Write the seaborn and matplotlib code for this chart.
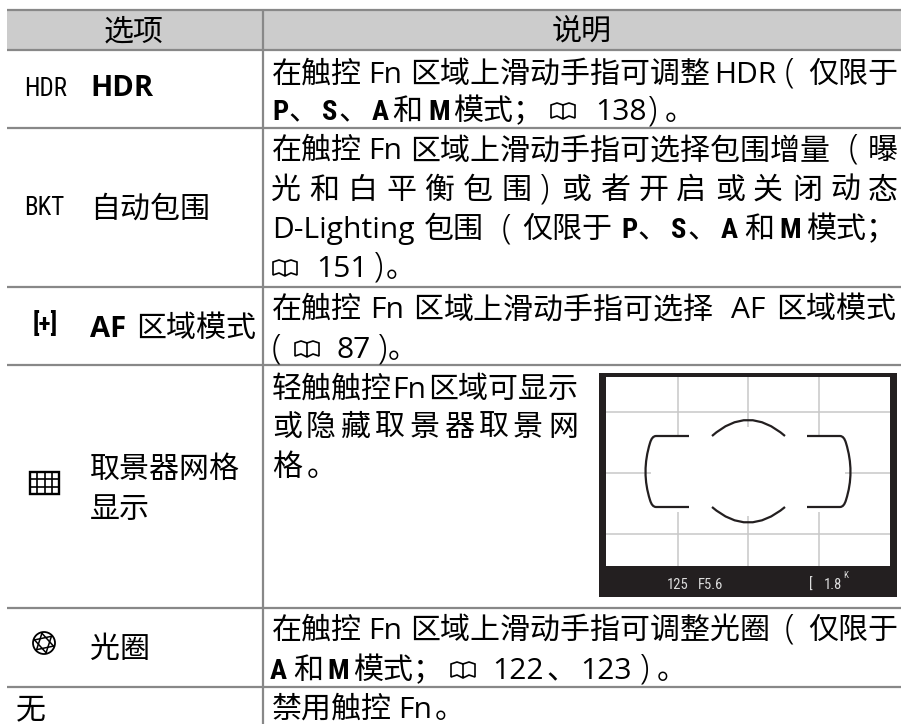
import numpy as np
import pandas as pd
import matplotlib
matplotlib.use('Agg')
import matplotlib.pyplot as plt
from matplotlib import font_manager
from matplotlib.patches import Rectangle, Circle, PathPatch
from matplotlib.path import Path
import seaborn as sns

W, H = 901, 724
RULE = '#888888'
HEAD = '#cccccc'
INK = '#000000'

# --- table structure ---
headers = ['选项', '说明']
row_edges = [10, 50, 128, 287, 365, 608, 687]
column_edge = 263

# --- left column: (baseline, kind, x, text) ---
options = [
    (96, 'icon', 24, 'HDR'),
    (96, 'bold', 90, 'HDR'),
    (215, 'icon', 24, 'BKT'),
    (218, 'cjk', 90, '自动包围'),
    (332, 'brace', 33, '[+]'),
    (337, 'bold', 90, 'AF'),
    (337, 'cjk', 136, '区域模式'),
    (478, 'cjk', 90, '取景器网格'),
    (518, 'cjk', 90, '显示'),
    (658, 'cjk', 90, '光圈'),
    (718, 'cjk', 16, '无'),
]

# --- right column: baseline, then (kind, x, text), book marks are kind 'book' ---
row_hdr_1 = (83, [('cjk', 272, '在触控'), ('lat', 368, 'Fn'), ('cjk', 410, '区域上滑动手指可调整'),
                  ('lat', 714, 'HDR'), ('paren', 785, '('), ('cjk', 808, '仅限于')])
row_hdr_2 = (120, [('narrow', 272, 'P'), ('cjk', 288, '、'), ('narrow', 322, 'S'), ('cjk', 338, '、'),
                   ('narrow', 372, 'A'), ('cjk', 392, '和'), ('narrow', 428, 'M'), ('cjk', 453, '模式；'),
                   ('book', 550, ''), ('num', 595, '138'), ('paren', 648, ')'), ('cjk', 665, '。')])
row_bkt_1 = (159, [('cjk', 272, '在触控'), ('lat', 368, 'Fn'), ('cjk', 410, '区域上滑动手指可选择包围增量'),
                   ('paren', 849, '('), ('cjk', 868, '曝')])
row_bkt_2 = (199, [('cjk', 271, '光'), ('cjk', 309, '和'), ('cjk', 348, '白'), ('cjk', 386, '平'),
                   ('cjk', 424, '衡'), ('cjk', 463, '包'), ('cjk', 501, '围'), ('paren', 540, ')'),
                   ('cjk', 561, '或'), ('cjk', 600, '者'), ('cjk', 638, '开'), ('cjk', 676, '启'),
                   ('cjk', 715, '或'), ('cjk', 753, '关'), ('cjk', 792, '闭'), ('cjk', 830, '动'),
                   ('cjk', 868, '态')])
row_bkt_3 = (238, [('lat', 272, 'D-Lighting'), ('cjk', 424, '包围'), ('paren', 502, '('), ('cjk', 522, '仅限于'),
                   ('narrow', 621, 'P'), ('cjk', 637, '、'), ('narrow', 671, 'S'), ('cjk', 687, '、'),
                   ('narrow', 721, 'A'), ('cjk', 744, '和'), ('narrow', 779, 'M'), ('cjk', 806, '模式；')])
row_bkt_4 = (277, [('book', 272, ''), ('num', 316, '151'), ('paren', 374, ')'), ('cjk', 386, '。')])
row_af_1 = (318, [('cjk', 272, '在触控'), ('lat', 370, 'Fn'), ('cjk', 413, '区'), ('cjk', 444, '域上滑动手指可选择'),
                  ('lat', 731, 'AF'), ('cjk', 776, '区域模式')])
row_af_2 = (358, [('paren', 272, '('), ('book', 294, ''), ('num', 337, '87'), ('paren', 378, ')'), ('cjk', 388, '。')])
row_grid_1 = (398, [('cjk', 272, '轻触触控'), ('lat', 392, 'Fn'), ('cjk', 428, '区域可显示')])
row_grid_2 = (436, [('cjk', 272, '或'), ('cjk', 306, '隐'), ('cjk', 341, '藏'), ('cjk', 375, '取'), ('cjk', 410, '景'),
                    ('cjk', 444, '器'), ('cjk', 479, '取'), ('cjk', 513, '景'), ('cjk', 548, '网')])
row_grid_3 = (476, [('cjk', 272, '格'), ('cjk', 307, '。')])
row_ap_1 = (639, [('cjk', 272, '在触控'), ('lat', 368, 'Fn'), ('cjk', 410, '区域上滑动手指可调整光圈'),
                  ('paren', 785, '('), ('cjk', 808, '仅限于')])
row_ap_2 = (679, [('narrow', 270, 'A'), ('cjk', 293, '和'), ('narrow', 327, 'M'), ('cjk', 353, '模式；'),
                  ('book', 450, ''), ('num', 492, '122'), ('cjk', 546, '、'), ('num', 580, '123'),
                  ('paren', 640, ')'), ('cjk', 657, '。')])
row_none = (718, [('cjk', 272, '禁用触控'), ('lat', 398, 'Fn'), ('cjk', 435, '。')])

description_lines = [row_hdr_1, row_hdr_2, row_bkt_1, row_bkt_2, row_bkt_3, row_bkt_4, row_af_1, row_af_2,
                     row_grid_1, row_grid_2, row_grid_3, row_ap_1, row_ap_2, row_none]

# --- viewfinder picture ---
finder_columns = [678, 748, 819]
finder_rows = [412, 473, 534]
finder_readout = [(667, '125', 589), (698, 'F5.6', 589), (809, '[', 589), (824, '1.8', 589), (843, 'K', 578)]

sns.set_theme(style='white')
plt.rcParams['font.family'] = ['Noto Sans CJK SC', 'DejaVu Sans']

installed = {f.name for f in font_manager.fontManager.ttflist}
NARROW = next(n for n in ['Liberation Sans Narrow', 'Roboto Condensed', 'Open Sans Condensed', 'Roboto', 'DejaVu Sans']
              if n in installed)

STYLES = {
    'cjk': dict(family=['Noto Sans CJK SC', 'DejaVu Sans'], size=21.6),
    'lat': dict(family=['Open Sans', 'DejaVu Sans'], size=21.6),
    'num': dict(family=['Open Sans', 'DejaVu Sans'], size=21.6),
    'paren': dict(family=['Open Sans', 'DejaVu Sans'], size=25, weight='light'),
    'bold': dict(family=['Open Sans', 'DejaVu Sans'], size=21, weight='bold'),
    'narrow': dict(family=[NARROW, 'DejaVu Sans'], size=20.5, weight='bold'),
    'brace': dict(family=[NARROW, 'DejaVu Sans'], size=18, weight='bold'),
    'icon': dict(family=[NARROW, 'DejaVu Sans'], size=18),
}

fig = plt.figure(figsize=(W / 100, H / 100), dpi=100, facecolor='white')

# header band as a one cell heatmap
head_ax = fig.add_axes([7 / W, 1 - 50 / H, (W - 7) / W, 40 / H])
sns.heatmap(np.zeros((1, 1)), cmap=[HEAD], cbar=False, ax=head_ax,
            xticklabels=False, yticklabels=False)

ax = fig.add_axes([0, 0, 1, 1], facecolor='none')


def draw_rules(segments, color, lw, zorder):
    """segments: list of (x0, y0, x1, y1), drawn by one lineplot call"""
    rows = []
    for i, (x0, y0, x1, y1) in enumerate(segments):
        rows.append({'x': x0, 'y': y0, 'rule': i})
        rows.append({'x': x1, 'y': y1, 'rule': i})
    df = pd.DataFrame(rows)
    sns.lineplot(data=df, x='x', y='y', units='rule', estimator=None, sort=False,
                 color=color, linewidth=lw, legend=False, ax=ax, zorder=zorder,
                 solid_capstyle='butt')


def draw_book(x, base):
    top, bot = base - 16, base - 1
    mid = x + 13
    path = Path([(mid, top + 1), (x + 7, top - 1), (x + 1, top + 1), (x + 1, bot - 1), (x + 7, bot - 3), (mid, bot),
                 (x + 19, bot - 3), (x + 25, bot - 1), (x + 25, top + 1), (x + 19, top - 1), (mid, top + 1), (mid, bot)])
    ax.add_patch(PathPatch(path, fill=False, ec=INK, lw=1.2, zorder=5))


def draw_segments(base, segments):
    for kind, x, txt in segments:
        if kind == 'book':
            draw_book(x, base)
        else:
            ax.text(x, base, txt, color=INK, va='baseline', ha='left', **STYLES[kind])


# table rules
table_rules = [(7, y, W, y) for y in row_edges] + [(column_edge, 10, column_edge, H)]
draw_rules(table_rules, RULE, 1.6, 3)

# header and body text
ax.text(134, 40, headers[0], color=INK, ha='center', va='baseline', weight='medium', size=21.6)
ax.text(582, 40, headers[1], color=INK, ha='center', va='baseline', weight='medium', size=21.6)
for base, kind, x, txt in options:
    ax.text(x, base, txt, color=INK, va='baseline', ha='left', **STYLES[kind])
for base, segments in description_lines:
    draw_segments(base, segments)

# grid icon
ax.add_patch(Rectangle((30, 472), 29, 22, fill=False, ec=INK, lw=1.7, zorder=5))
grid_icon = [(30 + 7.25 * i, 472, 30 + 7.25 * i, 494) for i in (1, 2, 3)] + [(30, 472 + 7.3 * i, 59, 472 + 7.3 * i) for i in (1, 2)]
draw_rules(grid_icon, INK, 1.2, 5)

# aperture icon
ax.add_patch(Circle((44, 643), 11, fill=False, ec=INK, lw=1.3, zorder=5))
blades = []
for a in np.deg2rad([15, 75, 135, 195, 255, 315]):
    blades.append((44 + 11 * np.cos(a), 643 + 11 * np.sin(a),
                   44 + 11 * np.cos(a + 2.2), 643 + 11 * np.sin(a + 2.2)))
draw_rules(blades, INK, 1.1, 5)

# viewfinder
ax.add_patch(Rectangle((599, 373), 298, 224, fc='#231f20', ec='none', zorder=1))
ax.add_patch(Rectangle((606, 377), 284, 189, fc='white', ec='none', zorder=2))
grid = [(x, 377, x, 566) for x in finder_columns] + [(606, y, 890, y) for y in finder_rows]
draw_rules(grid, '#c8c8c8', 1.1, 2.5)
ax.add_patch(Rectangle((651, 436), 194, 76, fc='white', ec='none', zorder=2.7))
ax.add_patch(Rectangle((720, 427), 56, 9, fc='white', ec='none', zorder=2.7))
ax.add_patch(Rectangle((720, 512), 56, 4, fc='white', ec='none', zorder=2.7))

curves = [
    [(712, 436), (748, 404), (785, 436)],
    [(712, 507), (748, 538), (785, 507)],
]
for pts in curves:
    ax.add_patch(PathPatch(Path(pts, [Path.MOVETO, Path.CURVE3, Path.CURVE3]), fill=False, ec='#231f20', lw=1.6, zorder=4))
codes = [Path.MOVETO, Path.LINETO, Path.CURVE3, Path.CURVE3, Path.CURVE3, Path.CURVE3, Path.CURVE3, Path.CURVE3, Path.LINETO]
left = Path([(689, 436), (656, 436), (652, 436), (650, 443), (641, 472), (650, 500), (652, 507), (656, 507), (689, 507)], codes)
ax.add_patch(PathPatch(left, fill=False, ec='#231f20', lw=1.6, zorder=4))
right = Path([(807, 436), (840, 436), (844, 436), (846, 443), (855, 472), (846, 500), (844, 507), (840, 507), (807, 507)], codes)
ax.add_patch(PathPatch(right, fill=False, ec='#231f20', lw=1.6, zorder=4))
for x, txt, y in finder_readout:
    ax.text(x, y, txt, color='#dddddd', va='baseline', ha='left',
            family=[NARROW, 'DejaVu Sans'], size=10.5 if txt != 'K' else 6.5, zorder=5)

ax.set_xlim(0, W)
ax.set_ylim(H, 0)
ax.set_xlabel('')
ax.set_ylabel('')
ax.axis('off')

fig.savefig('out.png', dpi=100)
